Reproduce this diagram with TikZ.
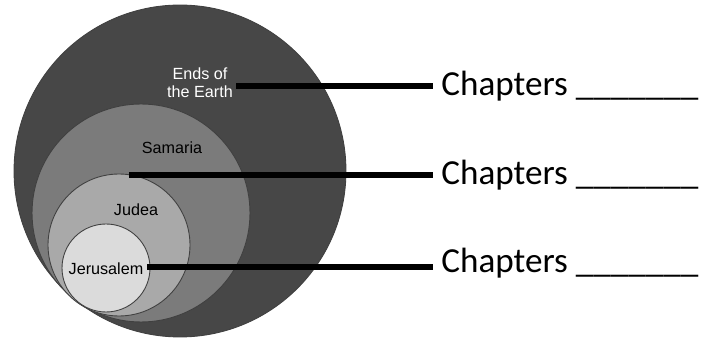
\documentclass[tikz,border=0pt]{standalone}
\usepackage{fontspec}
\setmainfont{Carlito}
\newfontfamily\arialfont{Liberation Sans}
\usepackage{xcolor}
\usetikzlibrary{positioning,calc}

\definecolor{earthgray}{HTML}{474747}
\definecolor{samgray}{HTML}{7B7B7B}
\definecolor{judgray}{HTML}{A9A9A9}
\definecolor{jergray}{HTML}{DBDBDB}

\begin{document}
\begin{tikzpicture}[
  x=0.02cm, y=-0.02cm,
  region/.style={circle, draw=black!75, line width=0.5pt, fill=#1,
                 inner sep=0pt, outer sep=0pt},
  place/.style={font=\arialfont\fontsize{9.2}{10.4}\selectfont, align=center, inner sep=0pt},
  chap/.style={font=\fontsize{20}{24}\selectfont, anchor=base west,
               inner xsep=0.16cm, inner ysep=0pt},
  leader/.style={line width=2.9pt},
]
\useasboundingbox (0,0) rectangle (702,340);

% nested circles, all touching at the lower left
\node[region=earthgray, minimum size=166*0.4mm] (earth) at (180,171) {};
\node[region=samgray,   minimum size=109*0.4mm] (samaria) at (141,213) {};
\node[region=judgray,   minimum size=71*0.4mm]  (judea) at (119,245) {};
\node[region=jergray,   minimum size=44*0.4mm]  (jerus) at (106,268) {};

\node[place, text=white] (earthlbl) at (200,83) {Ends of\\the Earth};
\node[place] (samlbl) at (172,148) {Samaria};
\node[place] (judlbl) at (136,210) {Judea};
\node[place] (jerlbl) at (106,269) {Jerusalem};

\node[chap] (ch1) at (433,96)  {Chapters \_\_\_\_\_\_\_};
\node[chap] (ch2) at (433,185) {Chapters \_\_\_\_\_\_\_};
\node[chap] (ch3) at (433,273) {Chapters \_\_\_\_\_\_\_};

\coordinate (p1) at (236,86);
\coordinate (p2) at (129,175);
\coordinate (p3) at (147,267);

\draw[leader] (p1) -- (p1 -| ch1.west);
\draw[leader] (p2) -- (p2 -| ch2.west);
\draw[leader] (p3) -- (p3 -| ch3.west);
\end{tikzpicture}
\end{document}
